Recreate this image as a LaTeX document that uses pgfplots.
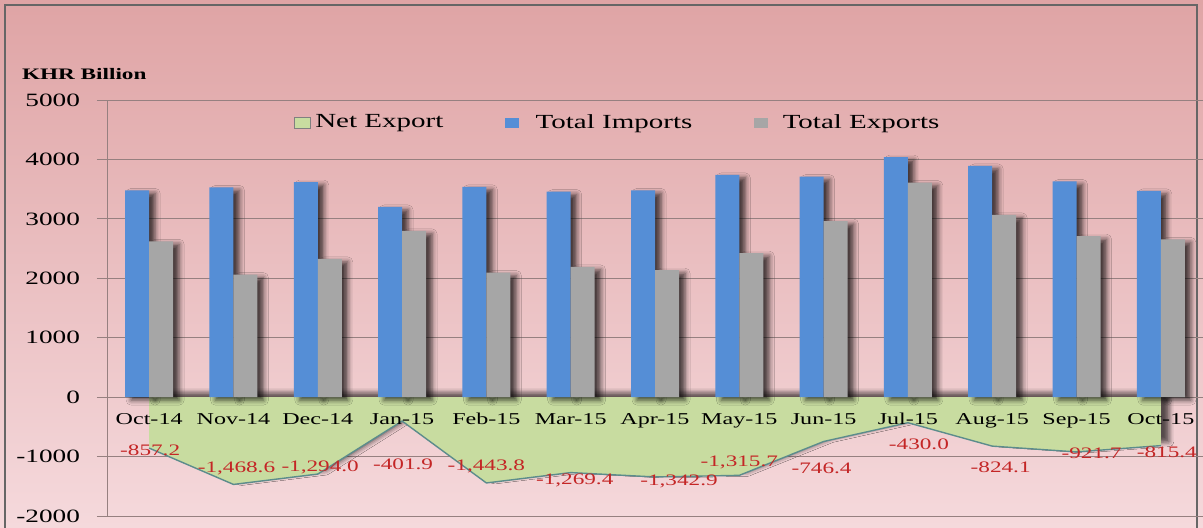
\documentclass[border=0pt]{standalone}
\usepackage{fontspec}
\setmainfont{Liberation Serif}[FakeStretch=1.45]
\usepackage{pgfplots}
\pgfplotsset{compat=1.18}
\usepackage{pgfplotstable}
\usetikzlibrary{shadows.blur}

\definecolor{bgtop}{RGB}{223,164,165}
\definecolor{bgbot}{RGB}{245,217,220}
\definecolor{impblue}{RGB}{85,142,214}
\definecolor{expgray}{RGB}{166,166,166}
\definecolor{netgreen}{RGB}{200,220,160}
\definecolor{netline}{RGB}{92,140,140}
\definecolor{labred}{RGB}{196,38,38}
\definecolor{gridc}{RGB}{150,128,128}

% imports, exports, net export (KHR billion); dx/dy = label offset in pt
\pgfplotstableread{
x imp exp net dx dy lab
0 3480 2623 -857.2 0.5 -1 -857.2
1 3530 2061 -1468.6 1.5 8.2 -1,468.6
2 3620 2326 -1294.0 1.2 3.5 -1,294.0
3 3200 2798 -401.9 0.5 -21.5 -401.9
4 3540 2096 -1443.8 0 8.5 -1,443.8
5 3460 2191 -1269.4 2 -3.7 -1,269.4
6 3480 2137 -1342.9 12 -2 -1,342.9
7 3740 2424 -1315.7 0 6.7 -1,315.7
8 3710 2964 -746.4 -1 -13.2 -746.4
9 4040 3610 -430.0 5.5 -10.7 -430.0
10 3890 3066 -824.1 4.2 -10.5 -824.1
11 3630 2708 -921.7 7.5 -0.5 -921.7
12 3470 2655 -815.4 3 -3.5 -815.4
}\data

\pgfplotsset{
  frame/.style={
    at={(53.5pt,5.5pt)}, anchor=south west,
    scale only axis, width=548pt, height=208pt,
    xmin=-0.5, xmax=12.5,
    ymin=-2000, ymax=5000,
  }
}

\begin{document}
\begin{tikzpicture}
\useasboundingbox (0,0) rectangle (601.5pt,263.5pt);
\shade[top color=bgtop, bottom color=bgbot] (0,0) rectangle (601.5pt,263.5pt);
\draw[gray!80!black, line width=0.6pt] (2.5pt,-1pt) -- (2.5pt,261pt) -- (598.5pt,261pt) -- (598.5pt,-1pt);

\begin{axis}[
  frame,
  axis x line*=middle, axis y line*=left,
  axis line style={draw=gridc, line width=0.5pt},
  xtick=\empty,
  ytick={-2000,-1000,0,1000,2000,3000,4000,5000},
  ytick style={draw=gridc, line width=0.5pt},
  tick align=outside, major tick length=5pt,
  yticklabel style={font=\fontsize{9.4}{11}\selectfont, xshift=-5pt},
  /pgf/number format/assume math mode=true,
  /pgf/number format/1000 sep={},
  ymajorgrids, grid style={draw=gridc, line width=0.5pt},
  legend style={at={(0.467,0.945)}, anchor=center, draw=none, fill=none,
    legend columns=3, font=\fontsize{10}{12}\selectfont,
    /tikz/every even column/.append style={column sep=29pt}},
]

\addlegendimage{legend image code/.code={\draw[fill=netgreen, draw=gray, line width=0.5pt] (0pt,-2.75pt) rectangle (8pt,2.75pt);}}
\addlegendimage{legend image code/.code={\fill[impblue] (0pt,-2.25pt) rectangle (6.5pt,2.25pt); \path[draw=none, fill=none] (0pt,0pt) -- (13pt,0pt);}}
\addlegendimage{legend image code/.code={\fill[expgray] (0pt,-2.25pt) rectangle (6.5pt,2.25pt); \path[draw=none, fill=none] (0pt,0pt) -- (12pt,0pt);}}

\addplot[forget plot, fill=netgreen, draw=none,
  blur shadow={shadow xshift=-4pt, shadow yshift=2pt, shadow blur radius=2.5pt, shadow opacity=40},
  blur shadow={shadow xshift=4pt, shadow yshift=2pt, shadow blur radius=2.5pt, shadow opacity=40}]
  table[x=x, y=net]{\data} \closedcycle;

\addplot[forget plot, draw=netline, line width=0.7pt,
  point meta=explicit symbolic,
  nodes near coords,
  visualization depends on=\thisrow{dx}\as\dx,
  visualization depends on=\thisrow{dy}\as\dy,
  every node near coord/.append style={anchor=center, text=labred,
    font=\fontsize{8}{9}\selectfont, xshift={\dx*1pt}, yshift={\dy*1pt}}]
  table[x=x, y=net, meta=lab]{\data};

\addplot[forget plot, ybar, bar width=12pt, bar shift=-6pt, fill=impblue, draw=none,
  blur shadow={shadow xshift=3pt, shadow yshift=-1.5pt, shadow blur radius=2.5pt, shadow opacity=70}]
  table[x=x, y=imp]{\data};

\addplot[forget plot, ybar, bar width=12pt, bar shift=6pt, fill=expgray, draw=none,
  blur shadow={shadow xshift=3pt, shadow yshift=-1.5pt, shadow blur radius=2.5pt, shadow opacity=70}]
  table[x=x, y=exp]{\data};

\legend{Net Export, Total Imports, Total Exports}
\end{axis}

% second axis on top: the month labels sit over the area
\begin{axis}[
  frame,
  axis x line*=middle, axis y line=none,
  x axis line style={draw=none},
  xtick={0,...,12},
  xticklabels={Oct-14,Nov-14,Dec-14,Jan-15,Feb-15,Mar-15,Apr-15,May-15,Jun-15,Jul-15,Aug-15,Sep-15,Oct-15},
  xtick style={draw=none},
  xticklabel style={font=\fontsize{8.3}{10}\selectfont, yshift=-4.5pt},
  ytick=\empty,
]
\end{axis}

\node[anchor=west, font=\bfseries\fontsize{8}{9}\selectfont] at (7.5pt,226.5pt) {KHR Billion};
\end{tikzpicture}
\end{document}
